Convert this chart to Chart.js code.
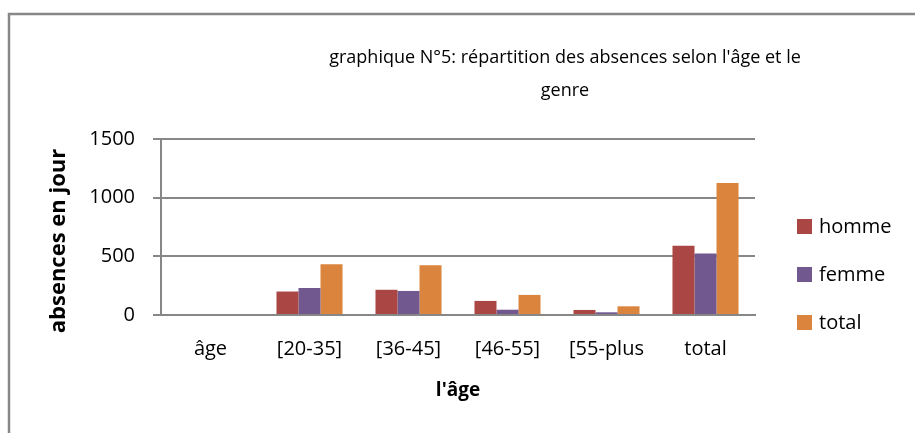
<!DOCTYPE html>
<html>
<head>
<meta charset="utf-8">
<script src="https://cdn.jsdelivr.net/npm/chart.js@4.4.1/dist/chart.umd.min.js"></script>
<style>
  html, body { margin: 0; padding: 0; background: #fff; }
  #wrap { width: 915px; height: 433px; }
</style>
</head>
<body>
<div id="wrap"><canvas id="c" width="915" height="433"></canvas></div>
<script>
// data
const categories = ['âge', '[20-35]', '[36-45]', '[46-55]', '[55-plus', 'total'];
const homme = [null, 200, 215, 120, 43, 590];
const femme = [null, 230, 205, 45, 23, 524];
const total = [null, 433, 425, 171, 74, 1126];
const seriesNames = ['homme', 'femme', 'total'];
const titleLines = ["graphique N°5: répartition des absences selon l'âge et le", 'genre'];
const yTitle = 'absences en jour';
const xTitle = "l'âge";

const gridGrey = '#878787';
const fontFam = "'Open Sans', sans-serif";

// outer frame, titles and legend drawn by hand (Excel style layout)
const decor = {
  id: 'decor',
  beforeDraw(chart) {
    const ctx = chart.ctx;
    ctx.save();
    ctx.strokeStyle = gridGrey;
    ctx.lineWidth = 2.5;
    ctx.beginPath();
    ctx.moveTo(9, 433);
    ctx.lineTo(9, 14);
    ctx.lineTo(915, 14);
    ctx.stroke();
    ctx.restore();
  },
  afterDraw(chart) {
    const ctx = chart.ctx;
    ctx.save();
    ctx.fillStyle = '#000';
    ctx.textAlign = 'center';
    ctx.textBaseline = 'middle';
    ctx.font = '18px ' + fontFam;
    ctx.fillText(titleLines[0], 565, 58);
    ctx.fillText(titleLines[1], 565, 91);

    // y axis title, sits a bit below the plot centre like the original
    ctx.save();
    ctx.translate(59, 241);
    ctx.rotate(-Math.PI / 2);
    ctx.font = 'bold 22px ' + fontFam;
    ctx.fillText(yTitle, 0, 0);
    ctx.restore();

    ctx.textAlign = 'left';
    ctx.font = '20px ' + fontFam;
    const rows = [226, 274, 322];
    chart.data.datasets.forEach(function (ds, i) {
      ctx.fillStyle = ds.backgroundColor;
      ctx.fillRect(797, rows[i] - 7, 15, 15);
      ctx.fillStyle = '#000';
      ctx.fillText(ds.label, 819, rows[i] + 1);
    });
    ctx.restore();
  }
};

new Chart(document.getElementById('c'), {
  type: 'bar',
  data: {
    labels: categories,
    datasets: [
      { label: seriesNames[0], data: homme, backgroundColor: '#AA4643' },
      { label: seriesNames[1], data: femme, backgroundColor: '#71588F' },
      { label: seriesNames[2], data: total, backgroundColor: '#DB843D' }
    ]
  },
  options: {
    responsive: false,
    animation: false,
    layout: { padding: { left: 0, top: 139, right: 160, bottom: 0 } },
    datasets: { bar: { categoryPercentage: 0.667, barPercentage: 1 } },
    plugins: {
      legend: { display: false },
      title: { display: false },
      tooltip: { enabled: false }
    },
    scales: {
      x: {
        grid: { display: false, drawTicks: true, tickLength: 8 },
        border: { display: true, color: gridGrey, width: 2 },
        ticks: { color: '#000', font: { family: fontFam, size: 20 }, padding: 14, maxRotation: 0 },
        title: { display: true, text: xTitle, color: '#000', font: { family: fontFam, size: 19, weight: 'bold' }, padding: { top: 0, bottom: 31 } },
        afterFit(scale) { scale.height = 118; }
      },
      y: {
        min: 0,
        max: 1500,
        ticks: {
          stepSize: 500, color: '#000', font: { family: fontFam, size: 20 }, padding: 18,
          callback: function (v) { return String(v); }
        },
        grid: { color: gridGrey, lineWidth: 2, drawTicks: true, tickLength: 8 },
        border: { display: true, color: gridGrey, width: 2 },
        afterFit(scale) { scale.width = 161; }
      }
    }
  },
  plugins: [decor]
});
</script>
</body>
</html>
